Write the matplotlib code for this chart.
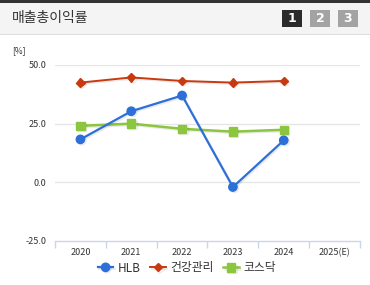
import matplotlib
matplotlib.use("Agg")
import matplotlib.pyplot as plt
from matplotlib.patches import Rectangle
import matplotlib.patheffects as pe

plt.rcParams['font.family'] = ['Noto Sans CJK KR', 'DejaVu Sans']

title = "매출총이익률"
categories = ["2020", "2021", "2022", "2023", "2024", "2025(E)"]
hlb = [18.3, 30.3, 37.0, -2.0, 17.9]
health = [42.5, 44.7, 43.2, 42.5, 43.2]
kosdaq = [24.1, 25.0, 22.8, 21.6, 22.4]
yticks = [-25.0, 0.0, 25.0, 50.0]
series_names = ["HLB", "건강관리", "코스닥"]

W, H = 370, 285
fig = plt.figure(figsize=(W / 100, H / 100), dpi=100)
fig.patch.set_facecolor("white")

# Header
fig.patches.append(Rectangle((0, (H - 34) / H), 1, 34 / H, transform=fig.transFigure,
                             facecolor="#f4f4f4", edgecolor="none", zorder=0))
fig.patches.append(Rectangle((0, (H - 3) / H), 1, 3 / H, transform=fig.transFigure,
                             facecolor="#333333", edgecolor="none", zorder=1))
fig.patches.append(Rectangle((0, (H - 35) / H), 1, 1 / H, transform=fig.transFigure,
                             facecolor="#dddddd", edgecolor="none", zorder=1))
fig.text(12 / W, 1 - 18 / H, title, fontsize=10, color="#333333", va="center", ha="left")
for i, (x0, col) in enumerate([(282, "#2b2b2b"), (310, "#a3a3a3"), (338, "#a3a3a3")]):
    fig.patches.append(Rectangle((x0 / W, 1 - 27 / H), 20 / W, 17 / H, transform=fig.transFigure,
                                 facecolor=col, edgecolor="none", zorder=2))
    fig.text((x0 + 10) / W, 1 - 18.5 / H, str(i + 1), fontsize=9, fontweight="bold",
             color="white", ha="center", va="center", zorder=3, family="DejaVu Sans")

# Axes
left, right, top, bottom = 55, 360, 65, 241
ax = fig.add_axes([left / W, (H - bottom) / H, (right - left) / W, (bottom - top) / H])
ax.set_xlim(-0.5, len(categories) - 0.5)
ax.set_ylim(-25, 50)
for s in ["top", "right", "left"]:
    ax.spines[s].set_visible(False)
ax.spines["bottom"].set_color("#ccd6eb")
ax.spines["bottom"].set_linewidth(1)
ax.set_yticks(yticks)
ax.set_yticklabels([f"{v:.1f}" for v in yticks], fontsize=6.5, color="#333333")
ax.tick_params(axis="y", length=0, pad=6)
for v in yticks[1:]:
    ax.axhline(v, color="#e6e6e6", lw=1, zorder=0)
ax.set_xticks(range(len(categories)))
ax.set_xticklabels(categories, fontsize=6.5, color="#333333")
ax.tick_params(axis="x", length=0, pad=5)
ax.set_xticks([i + 0.5 for i in range(-1, len(categories))], minor=True)
ax.tick_params(axis="x", which="minor", length=5, color="#ccd6eb", width=1)
fig.text(12 / W, 1 - 51 / H, "[%]", fontsize=6, color="#333333", va="center")

x = list(range(len(hlb)))
shadow = [pe.SimpleLineShadow(offset=(1, -1), alpha=0.08), pe.Normal()]
l1, = ax.plot(x, hlb, color="#2d6fd8", lw=1.6, marker="o", ms=6, label=series_names[0],
              path_effects=shadow, zorder=4)
l2, = ax.plot(x, health, color="#c9390f", lw=1.4, marker="D", ms=4.2, label=series_names[1],
              path_effects=shadow, zorder=3)
l3, = ax.plot(range(len(kosdaq)), kosdaq, color="#8cc63e", lw=1.8, marker="s", ms=6, label=series_names[2],
              path_effects=shadow, zorder=3)

leg = fig.legend(handles=[l1, l2, l3], loc="center", bbox_to_anchor=(187 / W, 1 - 268 / H),
                 ncol=3, frameon=False, fontsize=8.5, handlelength=1.3, handletextpad=0.4,
                 columnspacing=0.8)
for t in leg.get_texts():
    t.set_color("#333333")

fig.savefig("out.png", dpi=100)
